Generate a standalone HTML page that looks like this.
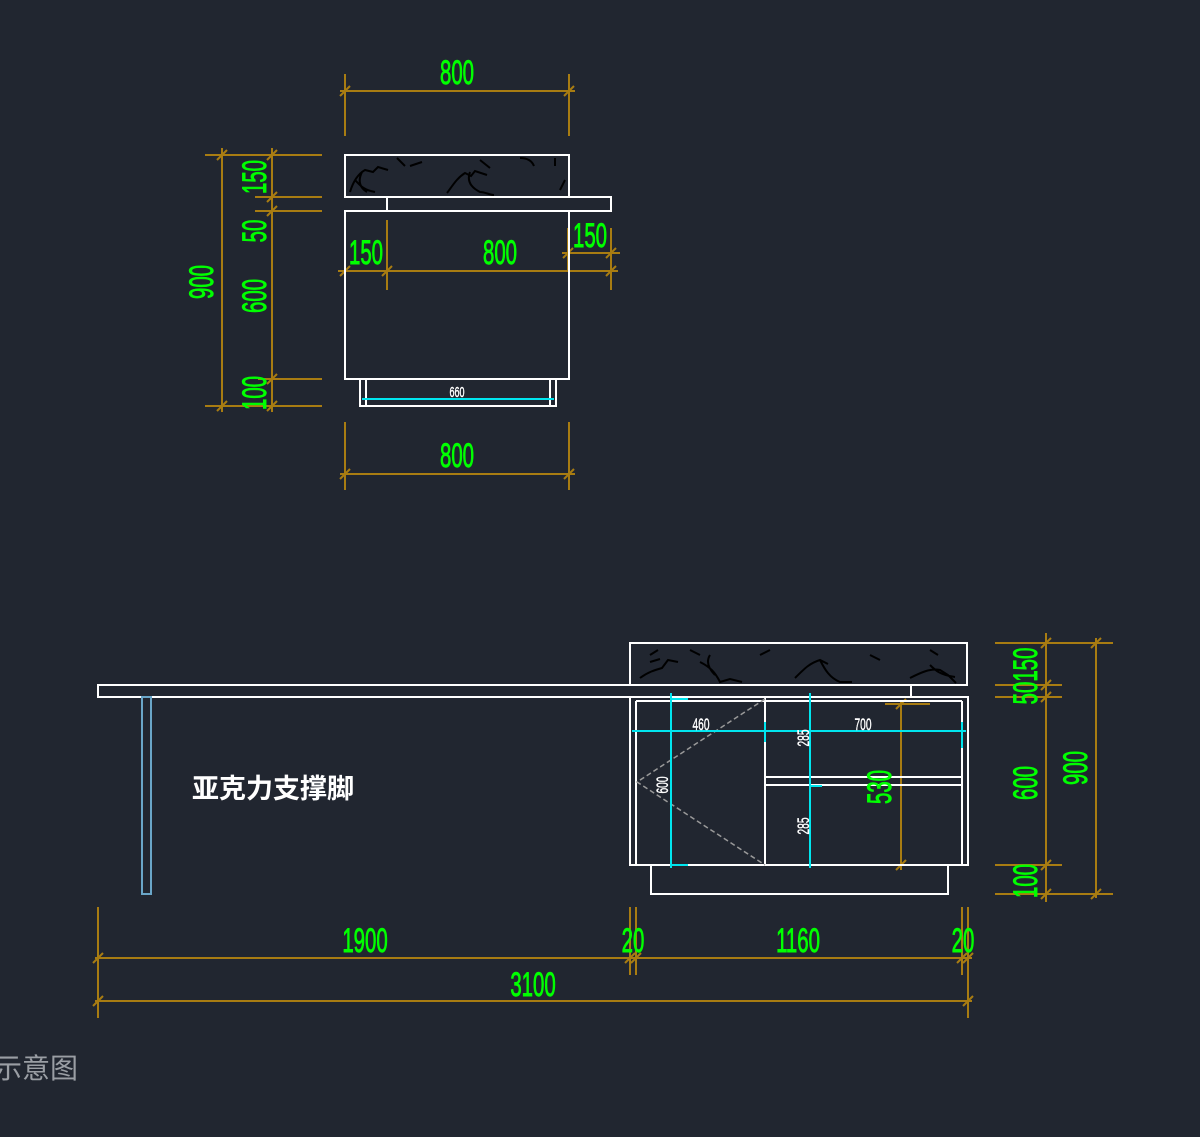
<!DOCTYPE html>
<html><head><meta charset="utf-8"><style>
html,body{margin:0;padding:0;background:#212630;}
svg{display:block}
.g{fill:#00ff00;stroke:#00ff00;stroke-width:0.9;font-family:"Liberation Sans",sans-serif;font-size:34px;text-anchor:middle}
.w{fill:#fff;stroke:#fff;stroke-width:0.4;font-family:"Liberation Sans",sans-serif;font-size:17px;text-anchor:middle}
</style></head><body>
<svg width="1200" height="1137" viewBox="0 0 1200 1137" xmlns="http://www.w3.org/2000/svg">
<rect width="1200" height="1137" fill="#212630"/>
<g stroke="#a87c12" stroke-width="2" fill="none">
<line x1="345" y1="74" x2="345" y2="136"/><line x1="569" y1="74" x2="569" y2="136"/>
<line x1="340" y1="91" x2="575" y2="91"/>
<line x1="345" y1="422" x2="345" y2="490"/><line x1="569" y1="422" x2="569" y2="490"/>
<line x1="340" y1="474" x2="575" y2="474"/>
<line x1="205" y1="155" x2="322" y2="155"/><line x1="255" y1="197" x2="322" y2="197"/>
<line x1="255" y1="211" x2="322" y2="211"/><line x1="258" y1="379" x2="322" y2="379"/>
<line x1="205" y1="406" x2="322" y2="406"/>
<line x1="222" y1="148" x2="222" y2="412"/><line x1="272" y1="148" x2="272" y2="412"/>
<line x1="345" y1="220" x2="345" y2="290"/><line x1="387" y1="220" x2="387" y2="290"/>
<line x1="611" y1="228" x2="611" y2="290"/><line x1="568" y1="228" x2="568" y2="270"/>
<line x1="338" y1="271" x2="618" y2="271"/><line x1="562" y1="253" x2="620" y2="253"/>
<line x1="885" y1="704" x2="930" y2="704"/><line x1="885" y1="865" x2="920" y2="865"/>
<line x1="901" y1="700" x2="901" y2="870"/>
<line x1="995" y1="643" x2="1113" y2="643"/><line x1="995" y1="685" x2="1062" y2="685"/>
<line x1="995" y1="697" x2="1062" y2="697"/><line x1="995" y1="865" x2="1062" y2="865"/>
<line x1="995" y1="894" x2="1113" y2="894"/>
<line x1="1046" y1="633" x2="1046" y2="902"/><line x1="1096" y1="638" x2="1096" y2="898"/>
<line x1="98" y1="907" x2="98" y2="1018"/><line x1="630" y1="907" x2="630" y2="975"/>
<line x1="636" y1="907" x2="636" y2="975"/><line x1="962" y1="907" x2="962" y2="975"/>
<line x1="968" y1="907" x2="968" y2="1018"/>
<line x1="95" y1="958" x2="972" y2="958"/><line x1="95" y1="1001" x2="972" y2="1001"/>
</g>
<g stroke="#a87c12" stroke-width="2">
<path d="M340 96l10-10M564 96l10-10M340 479l10-10M564 479l10-10M217 160l10-10M267 160l10-10M267 202l10-10M267 216l10-10M267 384l10-10M217 411l10-10M267 411l10-10M340 276l10-10M382 276l10-10M606 276l10-10M563 258l10-10M606 258l10-10M1041 648l10-10M1091 648l10-10M1041 690l10-10M1041 702l10-10M1041 870l10-10M1041 899l10-10M1091 899l10-10M896 709l10-10M896 870l10-10M93 963l10-10M625 963l10-10M631 963l10-10M957 963l10-10M963 963l10-10M93 1006l10-10M963 1006l10-10"/>
</g>
<g stroke="#fff" stroke-width="2" fill="none">
<rect x="345" y="155" width="224" height="42"/>
<rect x="387" y="197" width="224" height="14"/>
<rect x="345" y="211" width="224" height="168"/>
<rect x="360" y="379" width="196" height="27"/>
<line x1="366" y1="379" x2="366" y2="406"/><line x1="550" y1="379" x2="550" y2="406"/>
</g>
<g stroke="#000" stroke-width="2" fill="none">
<path d="M350 192c3-10 8-18 15-22l8 2 5-5 10 3M355 180c5 5 8 10 20 12M362 172c-4 8-3 15 5 20M447 193c6-8 10-15 18-20l6 3 4-5 12 4M470 172c-3 8 0 15 10 20 5 0 10 3 14 3M397 158l8 8M410 166l12-4M480 160l10 8M520 158c8 0 12 3 14 8M555 158v8M560 190l5-10"/>
<path d="M640 678c8-6 15-8 22-10l6-8 10 2M700 662c10 5 15 10 20 20l10-3 12 3M710 655c-5 8 0 15 5 20M795 678c10-10 15-15 25-18l8 4M820 660c5 10 10 18 20 22h12M910 678c10-5 20-10 30-8l8 5 8 8M930 665c5 5 10 10 25 12M650 655l8-5M690 650l10 5M760 655l10-5M870 655l10 5M930 650l8 5M650 662l10-3"/>
</g>
<line x1="362" y1="399" x2="554" y2="399" stroke="#00e5ee" stroke-width="2"/>
<g stroke="#fff" stroke-width="2" fill="none">
<rect x="630" y="643" width="337" height="42"/>
<rect x="98" y="685" width="813" height="12"/>
<rect x="630" y="697" width="338" height="168"/>
<line x1="636" y1="701" x2="636" y2="865"/><line x1="962" y1="701" x2="962" y2="865"/>
<line x1="636" y1="701" x2="962" y2="701"/>
<line x1="765" y1="697" x2="765" y2="865"/>
<line x1="765" y1="777" x2="961" y2="777"/><line x1="765" y1="785" x2="961" y2="785"/>
<rect x="651" y="865" width="297" height="29"/>
</g>
<rect x="142" y="697" width="9" height="197" fill="none" stroke="#6aa6c8" stroke-width="2"/>
<path d="M765 699L637 782L765 865" stroke="#999" stroke-width="1.5" fill="none" stroke-dasharray="5,3"/>
<g stroke="#00e5ee" stroke-width="2">
<line x1="632" y1="731" x2="966" y2="731"/>
<line x1="671" y1="693" x2="671" y2="868"/><line x1="810" y1="693" x2="810" y2="868"/>
<line x1="765" y1="722" x2="765" y2="742"/><line x1="962" y1="722" x2="962" y2="748"/>
<line x1="671" y1="699" x2="688" y2="699"/><line x1="671" y1="865" x2="688" y2="865"/>
<line x1="810" y1="786" x2="822" y2="786"/>
</g>
<g class="g">
<text transform="translate(457,84) scale(0.6,1)">800</text>
<text transform="translate(457,467) scale(0.6,1)">800</text>
<text transform="translate(366,264) scale(0.6,1)">150</text>
<text transform="translate(500,264) scale(0.6,1)">800</text>
<text transform="translate(590,247) scale(0.6,1)">150</text>
<text transform="translate(213,282) rotate(-90) scale(0.6,1)">900</text>
<text transform="translate(266,177) rotate(-90) scale(0.6,1)">150</text>
<text transform="translate(266,231) rotate(-90) scale(0.6,1)">50</text>
<text transform="translate(266,296) rotate(-90) scale(0.6,1)">600</text>
<text transform="translate(266,393) rotate(-90) scale(0.6,1)">100</text>
<text transform="translate(891,787) rotate(-90) scale(0.6,1)">530</text>
<text transform="translate(1037,676) rotate(-90) scale(0.6,1)">50150</text>
<text transform="translate(1037,783) rotate(-90) scale(0.6,1)">600</text>
<text transform="translate(1037,881) rotate(-90) scale(0.6,1)">100</text>
<text transform="translate(1087,768) rotate(-90) scale(0.6,1)">900</text>
<text transform="translate(365,952) scale(0.6,1)">1900</text>
<text transform="translate(633,952) scale(0.6,1)">20</text>
<text transform="translate(798,952) scale(0.6,1)">1160</text>
<text transform="translate(963,952) scale(0.6,1)">20</text>
<text transform="translate(533,996) scale(0.6,1)">3100</text>
</g>
<g class="w">
<text transform="translate(457,397) scale(0.6,1)" style="font-size:15px">660</text>
<text transform="translate(701,730) scale(0.6,1)">460</text>
<text transform="translate(863,730) scale(0.6,1)">700</text>
<text transform="translate(668,785) rotate(-90) scale(0.6,1)">600</text>
<text transform="translate(809,738) rotate(-90) scale(0.6,1)">285</text>
<text transform="translate(809,826) rotate(-90) scale(0.6,1)">285</text>
</g>
<text x="192" y="798" fill="#fff" font-size="27" font-weight="bold" font-family="'Liberation Sans','Noto Sans CJK SC',sans-serif">亚克力支撑脚</text>
<text x="-6" y="1078" fill="#9a9ea4" font-size="28" font-family="'Liberation Sans','Noto Sans CJK SC',sans-serif">示意图</text>
</svg>
</body></html>
